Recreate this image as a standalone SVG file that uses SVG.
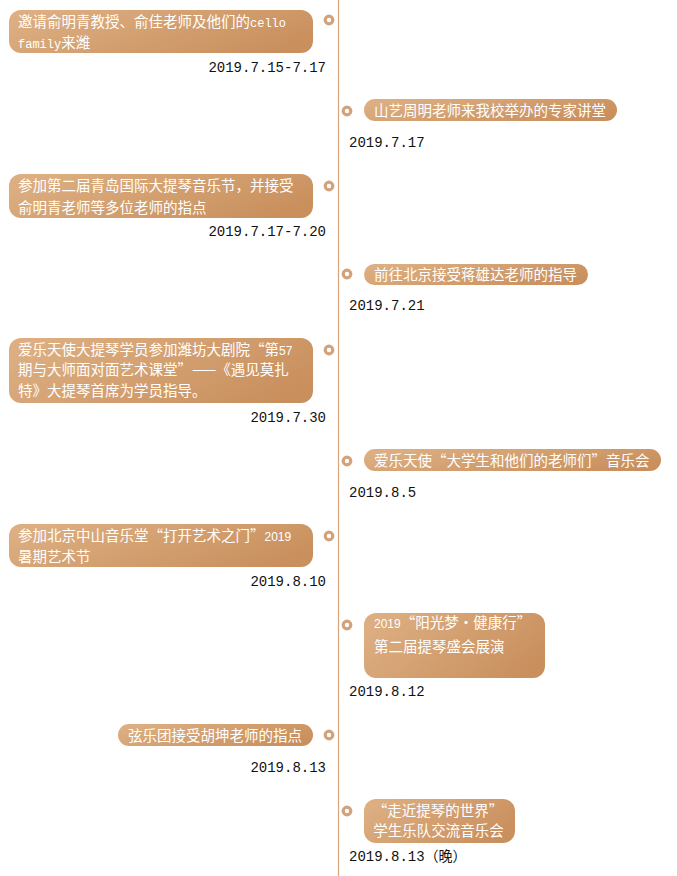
<svg xmlns="http://www.w3.org/2000/svg" width="677" height="876" viewBox="0 0 677 876">
<defs>
<linearGradient id="g" x1="0" y1="0.3" x2="1" y2="0.7">
<stop offset="0" stop-color="#dcae81"/>
<stop offset="1" stop-color="#c98f5d"/>
</linearGradient>
<style>
.b{fill:url(#g);}
.t{font-family:"Noto Sans CJK SC","Noto Sans",sans-serif;font-size:14.5px;fill:#ffffff;}
.n{font-family:"Liberation Sans",sans-serif;font-size:12px;}
.m{font-family:"Liberation Mono","Noto Sans CJK SC",monospace;font-size:12px;}
.d{font-family:"Liberation Mono","Noto Sans CJK SC",monospace;font-size:14px;fill:#111111;}
.dot{fill:#ffffff;stroke:#d3a27b;stroke-width:3.2;}
.r{text-anchor:end;}
</style>
</defs>
<rect width="677" height="876" fill="#ffffff"/>
<g id="connectors">
<line x1="338.5" y1="0" x2="338.5" y2="876" stroke="#d8a47c" stroke-width="1.2"/>
</g>
<g id="n1">
<rect class="b" x="9" y="10" width="304" height="43" rx="12"/>
<text class="t" x="18" y="26.5">邀请俞明青教授、俞佳老师及他们的<tspan class="m">cello</tspan></text>
<text class="t" x="18" y="48"><tspan class="m">family</tspan>来潍</text>
<circle class="dot" cx="329" cy="20" r="3.8"/>
<text class="d r" x="326" y="72">2019.7.15-7.17</text>
</g>
<g id="n2">
<rect class="b" x="364" y="99" width="253" height="22" rx="11"/>
<text class="t" x="374" y="115.5">山艺周明老师来我校举办的专家讲堂</text>
<circle class="dot" cx="347" cy="111" r="3.8"/>
<text class="d" x="349" y="147">2019.7.17</text>
</g>
<g id="n3">
<rect class="b" x="9" y="174" width="304" height="44" rx="12"/>
<text class="t" x="18" y="191">参加第二届青岛国际大提琴音乐节，并接受</text>
<text class="t" x="18" y="212.5">俞明青老师等多位老师的指点</text>
<circle class="dot" cx="329" cy="186" r="3.8"/>
<text class="d r" x="326" y="236">2019.7.17-7.20</text>
</g>
<g id="n4">
<rect class="b" x="364" y="264" width="224" height="21" rx="10.5"/>
<text class="t" x="374" y="279.5">前往北京接受蒋雄达老师的指导</text>
<circle class="dot" cx="347" cy="274" r="3.8"/>
<text class="d" x="349" y="310">2019.7.21</text>
</g>
<g id="n5">
<rect class="b" x="9" y="338" width="304" height="65" rx="12"/>
<text class="t" x="18" y="354.5">爱乐天使大提琴学员参加潍坊大剧院“第<tspan class="n">57</tspan></text>
<text class="t" x="18" y="375">期与大师面对面艺术课堂”——《遇见莫扎</text>
<text class="t" x="18" y="395.5">特》大提琴首席为学员指导。</text>
<circle class="dot" cx="329" cy="350" r="3.8"/>
<text class="d r" x="326" y="422">2019.7.30</text>
</g>
<g id="n6">
<rect class="b" x="364" y="449" width="297" height="22" rx="11"/>
<text class="t" x="374" y="465.5">爱乐天使“大学生和他们的老师们”音乐会</text>
<circle class="dot" cx="347" cy="461" r="3.8"/>
<text class="d" x="349" y="497">2019.8.5</text>
</g>
<g id="n7">
<rect class="b" x="9" y="524" width="304" height="43" rx="12"/>
<text class="t" x="18" y="540.5">参加北京中山音乐堂“打开艺术之门”<tspan class="n">2019</tspan></text>
<text class="t" x="18" y="561.5">暑期艺术节</text>
<circle class="dot" cx="329" cy="536" r="3.8"/>
<text class="d r" x="326" y="586">2019.8.10</text>
</g>
<g id="n8">
<rect class="b" x="364" y="613" width="181" height="65" rx="12"/>
<text class="t" x="374" y="627.5"><tspan class="n">2019</tspan>“阳光梦·健康行”</text>
<text class="t" x="374" y="651.5">第二届提琴盛会展演</text>
<circle class="dot" cx="347" cy="625" r="3.8"/>
<text class="d" x="349" y="695.5">2019.8.12</text>
</g>
<g id="n9">
<rect class="b" x="118" y="724" width="195" height="22" rx="11"/>
<text class="t" x="128" y="740.5">弦乐团接受胡坤老师的指点</text>
<circle class="dot" cx="329" cy="735" r="3.8"/>
<text class="d r" x="326" y="772">2019.8.13</text>
</g>
<g id="n10">
<rect class="b" x="364" y="799" width="151" height="44" rx="12"/>
<text class="t" x="438" y="815.5" text-anchor="middle">“走近提琴的世界”</text>
<text class="t" x="438.5" y="835.5" text-anchor="middle">学生乐队交流音乐会</text>
<circle class="dot" cx="347" cy="811" r="3.8"/>
<text class="d" x="349" y="860.5">2019.8.13（晚）</text>
</g>
</svg>
